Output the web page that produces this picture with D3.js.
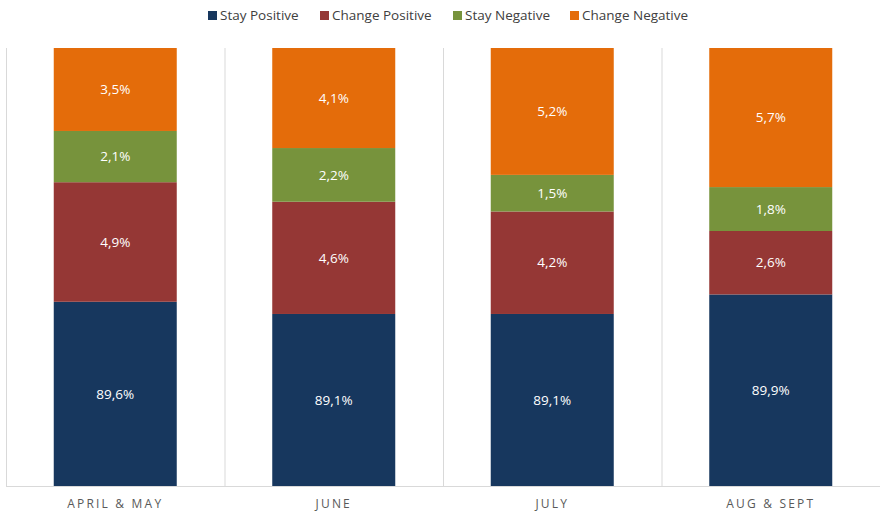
<!DOCTYPE html>
<html>
<head>
<meta charset="utf-8">
<script src="https://cdn.jsdelivr.net/npm/d3@7"></script>
<style>
  body { margin: 0; background: #fff; }
  svg { display: block; font-family: "Open Sans", sans-serif; }
</style>
</head>
<body>
<svg id="chart" width="880" height="513"></svg>
<script>
// chart data
const months = ["APRIL & MAY", "JUNE", "JULY", "AUG & SEPT"];
const seriesNames = ["Stay Positive", "Change Positive", "Stay Negative", "Change Negative"];
const stayPositive = [89.6, 89.1, 89.1, 89.9];
const changePositive = [4.9, 4.6, 4.2, 2.6];
const stayNegative = [2.1, 2.2, 1.5, 1.8];
const changeNegative = [3.5, 4.1, 5.2, 5.7];
const colors = ["#17375e", "#953735", "#77933c", "#e46c0a"];

const rows = months.map((m, i) => ({
  month: m,
  "Stay Positive": stayPositive[i],
  "Change Positive": changePositive[i],
  "Stay Negative": stayNegative[i],
  "Change Negative": changeNegative[i]
}));

const width = 880;
const height = 513;
const margin = { top: 48, right: 0, bottom: 27, left: 6 };

const svg = d3.select("#chart");

// x scale - one band per month
const xScale = d3.scaleBand()
  .domain(months)
  .range([margin.left, margin.left + 874])
  .paddingInner(0)
  .paddingOuter(0);

// y scale starts at 82% (axis not at zero in the original)
const yScale = d3.scaleLinear()
  .domain([82.05, 100])
  .range([height - margin.bottom, margin.top])
  .clamp(true);

const barW = 123;

// vertical separators
svg.append("g")
  .selectAll("line")
  .data(months.concat(["end"]))
  .join("line")
  .attr("x1", (d, i) => margin.left + i * xScale.bandwidth() + 0.5)
  .attr("x2", (d, i) => margin.left + i * xScale.bandwidth() + 0.5)
  .attr("y1", margin.top)
  .attr("y2", height - margin.bottom)
  .attr("stroke", "#d9d9d9")
  .attr("stroke-width", 1);

// baseline
svg.append("line")
  .attr("x1", margin.left)
  .attr("x2", width)
  .attr("y1", height - margin.bottom + 0.5)
  .attr("y2", height - margin.bottom + 0.5)
  .attr("stroke", "#d9d9d9");

// stack it
const stack = d3.stack().keys(seriesNames);
const stacked = stack(rows);

const layers = svg.append("g")
  .selectAll("g")
  .data(stacked)
  .join("g")
  .attr("fill", (d, i) => colors[i]);

layers.selectAll("rect")
  .data(d => d)
  .join("rect")
  .attr("x", d => xScale(d.data.month) + (xScale.bandwidth() - barW) / 2)
  .attr("y", d => yScale(d[1]))
  .attr("width", barW)
  .attr("height", d => yScale(d[0]) - yScale(d[1]));

// value labels
layers.selectAll("text")
  .data(d => d.map(v => Object.assign({ key: d.key }, v)))
  .join("text")
  .attr("x", d => xScale(d.data.month) + xScale.bandwidth() / 2)
  .attr("y", d => (yScale(d[0]) + yScale(d[1])) / 2)
  .attr("dy", "0.35em")
  .attr("text-anchor", "middle")
  .attr("fill", "#fff")
  .attr("font-size", "13.5px")
  .text(d => d.data[d.key].toFixed(1).replace(".", ",") + "%");

// category axis
const xAxis = d3.axisBottom(xScale).tickSize(0).tickPadding(13);
const gx = svg.append("g")
  .attr("transform", `translate(0, ${height - margin.bottom})`)
  .call(xAxis);
gx.select(".domain").remove();
gx.selectAll("text")
  .attr("font-family", "Open Sans, sans-serif")
  .attr("font-size", "12px")
  .attr("fill", "#595959")
  .attr("letter-spacing", "2.2px");

// legend
const legendX = [208, 320, 453, 570];
const legend = svg.append("g")
  .selectAll("g")
  .data(seriesNames)
  .join("g")
  .attr("transform", (d, i) => `translate(${legendX[i]}, 15)`);

legend.append("rect")
  .attr("x", 0)
  .attr("y", -4)
  .attr("width", 9)
  .attr("height", 9)
  .attr("fill", (d, i) => colors[i]);

legend.append("text")
  .attr("x", 12)
  .attr("y", 0)
  .attr("dy", "0.35em")
  .attr("font-size", "13.5px")
  .attr("fill", "#404040")
  .text(d => d);
</script>
</body>
</html>
